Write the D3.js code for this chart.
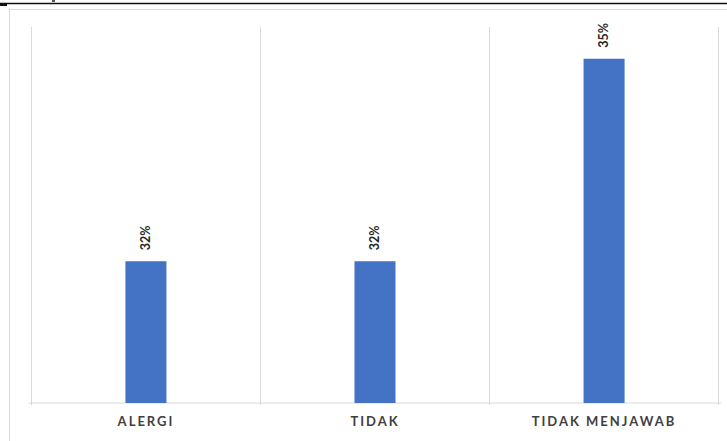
<!DOCTYPE html>
<html>
<head>
<meta charset="utf-8">
<script src="https://cdn.jsdelivr.net/npm/d3@7"></script>
<style>
  body { margin: 0; background: #fff; }
  svg { display: block; }
</style>
</head>
<body>
<svg id="vis"></svg>
<script>
// chart data
const categories = ['ALERGI', 'TIDAK', 'TIDAK MENJAWAB']
const values = [32, 32, 35]
const valueLabels = ['32%', '32%', '35%']

// layout constants
const WIDTH = 727
const HEIGHT = 441
const LEFT = 31.5
const RIGHT = 718.5
const TOP = 27
const BOTTOM = 403
const BAR_COLOR = '#4472c4'
const GRID_COLOR = '#d9d9d9'
const FONT = 'Lato, Calibri, "Open Sans", sans-serif'

var svg = d3.select('#vis')
    .attr('width', WIDTH)
    .attr('height', HEIGHT)

// page edge bits from the document the chart was cut from
svg.append('line') // top rule
    .attr('x1', 0).attr('x2', WIDTH)
    .attr('y1', 3.5).attr('y2', 3.5)
    .attr('stroke', '#111')
    .attr('stroke-width', 1.5)
svg.append('rect') // left stub
    .attr('x', 0).attr('y', 3)
    .attr('width', 7).attr('height', 3)
    .attr('fill', '#111')
svg.append('rect') // tail of a letter above
    .attr('x', 52).attr('y', 0)
    .attr('width', 3).attr('height', 2)
    .attr('fill', '#555')

// chart frame
svg.append('rect')
    .attr('x', 9.5)
    .attr('y', 9.5)
    .attr('width', WIDTH)
    .attr('height', HEIGHT)
    .attr('fill', 'none')
    .attr('stroke', GRID_COLOR)

// scales
var x = d3.scaleBand()
    .domain(categories)
    .range([LEFT, RIGHT])
    .paddingInner(0.821)
    .paddingOuter(0.41)

var band = d3.scaleBand()
    .domain(categories)
    .range([LEFT, RIGHT])

var y = d3.scaleLinear()
    .domain([29.9, 35.47])
    .range([BOTTOM, TOP])

// vertical gridlines at category boundaries
var bounds = categories.map(c => band(c)).concat([RIGHT])
svg.selectAll('.grid')
    .data(bounds)
    .enter().append('line')
    .attr('class', 'grid')
    .attr('x1', d => d).attr('x2', d => d)
    .attr('y1', TOP).attr('y2', BOTTOM + 2)
    .attr('stroke', GRID_COLOR)

// baseline
svg.append('line')
    .attr('x1', LEFT - 3).attr('x2', RIGHT + 3)
    .attr('y1', BOTTOM).attr('y2', BOTTOM)
    .attr('stroke', GRID_COLOR)

// bars
svg.selectAll('.bar')
    .data(values)
    .enter().append('rect')
    .attr('class', 'bar')
    .attr('x', (d, i) => x(categories[i]))
    .attr('y', d => y(d))
    .attr('width', x.bandwidth())
    .attr('height', d => BOTTOM - y(d))
    .attr('fill', BAR_COLOR)

// rotated value labels
svg.selectAll('.val')
    .data(values)
    .enter().append('text')
    .attr('class', 'val')
    .attr('transform', (d, i) => `translate(${x(categories[i]) + x.bandwidth() / 2 + 4},${y(d) - 11}) rotate(-90)`)
    .attr('font-family', FONT)
    .attr('font-size', '12.5px')
    .attr('font-weight', 'bold')
    .attr('fill', '#262626')
    .text((d, i) => valueLabels[i])

// category labels
svg.selectAll('.cat')
    .data(categories)
    .enter().append('text')
    .attr('class', 'cat')
    .attr('x', d => band(d) + band.bandwidth() / 2)
    .attr('y', 426)
    .attr('text-anchor', 'middle')
    .attr('font-family', FONT)
    .attr('font-size', '13px')
    .attr('font-weight', 'bold')
    .attr('letter-spacing', '2px')
    .attr('fill', '#404040')
    .text(d => d)
</script>
</body>
</html>
